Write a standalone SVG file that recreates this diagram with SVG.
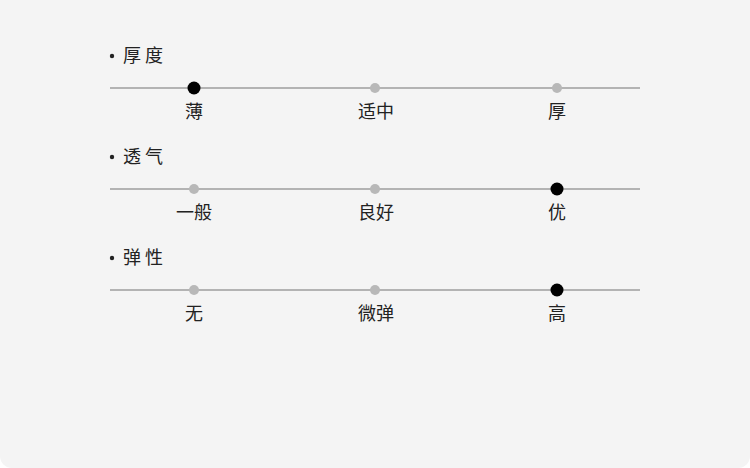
<svg xmlns="http://www.w3.org/2000/svg" width="750" height="468" viewBox="0 0 750 468">
<style>
.t{font-family:"Noto Sans CJK SC","Noto Sans",sans-serif;font-size:18px;fill:#222}
.h{font-family:"Noto Sans CJK SC","Noto Sans",sans-serif;font-size:18px;fill:#222;letter-spacing:4px}
.l{stroke:#b3b3b3;stroke-width:2}
.s{fill:#b8b8b8}
.b{fill:#000}
</style>
<path d="M0 0H750V456a12 12 0 0 1-12 12H12a12 12 0 0 1-12-12Z" fill="#f4f4f4"/>
<g id="thickness">
<circle cx="112" cy="56" r="2.2" fill="#222"/>
<text class="h" x="123" y="62">厚度</text>
<line class="l" x1="110" y1="88" x2="640" y2="88"/>
<circle class="b" cx="194" cy="88" r="6.5"/>
<circle class="s" cx="375" cy="88" r="5"/>
<circle class="s" cx="557" cy="88" r="5"/>
<text class="t" x="194" y="118" text-anchor="middle">薄</text>
<text class="t" x="376" y="118" text-anchor="middle">适中</text>
<text class="t" x="557" y="118" text-anchor="middle">厚</text>
</g>
<g id="breathability">
<circle cx="112" cy="157" r="2.2" fill="#222"/>
<text class="h" x="123" y="163">透气</text>
<line class="l" x1="110" y1="189" x2="640" y2="189"/>
<circle class="s" cx="194" cy="189" r="5"/>
<circle class="s" cx="375" cy="189" r="5"/>
<circle class="b" cx="557" cy="189" r="6.5"/>
<text class="t" x="194" y="219" text-anchor="middle">一般</text>
<text class="t" x="376" y="219" text-anchor="middle">良好</text>
<text class="t" x="557" y="219" text-anchor="middle">优</text>
</g>
<g id="elasticity">
<circle cx="112" cy="258" r="2.2" fill="#222"/>
<text class="h" x="123" y="264">弹性</text>
<line class="l" x1="110" y1="290" x2="640" y2="290"/>
<circle class="s" cx="194" cy="290" r="5"/>
<circle class="s" cx="375" cy="290" r="5"/>
<circle class="b" cx="557" cy="290" r="6.5"/>
<text class="t" x="194" y="320" text-anchor="middle">无</text>
<text class="t" x="376" y="320" text-anchor="middle">微弹</text>
<text class="t" x="557" y="320" text-anchor="middle">高</text>
</g>
</svg>
